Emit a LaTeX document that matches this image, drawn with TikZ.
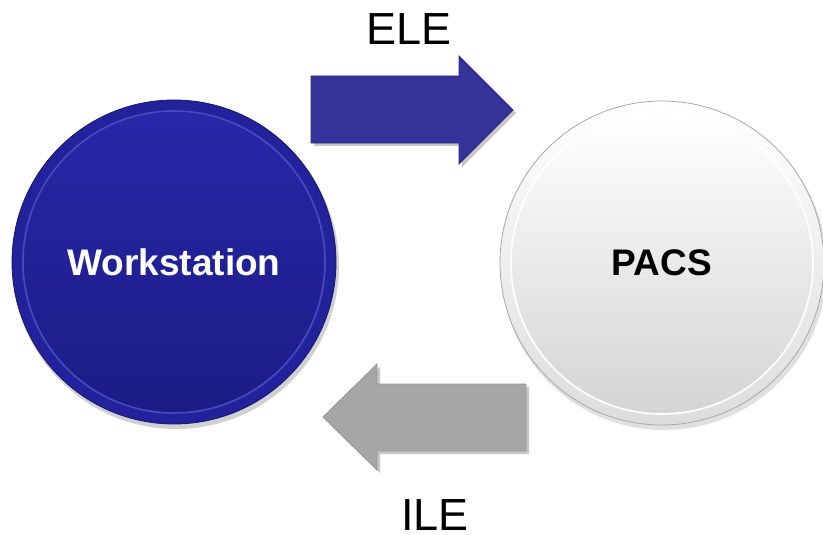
\documentclass[tikz,border=0pt]{standalone}
\usepackage{fontspec}
\setmainfont{Liberation Sans}
\definecolor{wsfill}{HTML}{22229C}
\definecolor{wstop}{HTML}{2727A8}
\definecolor{wsbot}{HTML}{1C1C86}
\definecolor{wsrim}{HTML}{5858CC}
\definecolor{wsedge}{HTML}{15156A}
\definecolor{elefill}{HTML}{333399}
\definecolor{elestroke}{HTML}{2A2A85}
\definecolor{ilefill}{HTML}{A6A6A6}
\definecolor{ilestroke}{HTML}{959595}
\definecolor{pacsbot}{HTML}{D4D4D4}
\definecolor{pacsedge}{HTML}{A8A8A8}
\tikzset{
  disc/.style={circle, minimum size=324pt, inner sep=0pt},
  bigtext/.style={font=\fontsize{37}{40}\selectfont\bfseries, inner sep=0pt},
  lbltext/.style={font=\fontsize{45}{50}\selectfont, inner sep=0pt, anchor=base},
  blockarrow/.style={line width=0.8pt, line join=miter},
  shadowfx/.style={fill=black, opacity=0.22, draw=none}
}
\begin{document}
\begin{tikzpicture}[x=1pt,y=-1pt]
\useasboundingbox (0,0) rectangle (823,535);
% shadows of circles
\fill[black, opacity=0.18] (176,266) circle (163);
\fill[black, opacity=0.12] (664,267) circle (163);
% Workstation circle
\node[disc, fill=wsfill, draw=wsedge, line width=0.8pt] (ws) at (174,262) {};
\shade[top color=wstop, bottom color=wsbot] (ws.center) circle (150);
\draw[wsrim, line width=1.6pt, opacity=0.75] (ws.center) circle (151);
\node[bigtext, text=white] (wslabel) at (ws.center) {Workstation};
% PACS circle
\node[disc, draw=pacsedge, line width=0.8pt, top color=white, bottom color=pacsbot!80] (pacs) at (662,263) {};
\shade[top color=white, bottom color=pacsbot] (pacs.center) circle (150);
\draw[white, line width=1.6pt] (pacs.center) circle (151);
\node[bigtext, text=black] (pacslabel) at (pacs.center) {PACS};
% ELE arrow
\fill[shadowfx] (314,79) -- (462,79) -- (462,59) -- (516,113) -- (462,167) -- (462,146) -- (314,146) -- cycle;
\draw[blockarrow, fill=elefill, draw=elestroke] (311,76) coordinate (eletail) -- (459,76) -- (459,56) -- (513,110) coordinate (eletip) -- (459,164) -- (459,143) -- (311,143) -- cycle;
\node[lbltext] (ele) at (409,45) {ELE};
% ILE arrow
\fill[shadowfx] (529,387) -- (380,387) -- (380,367) -- (326,420) -- (380,473) -- (380,454) -- (529,454) -- cycle;
\draw[blockarrow, fill=ilefill, draw=ilestroke] (526,384) coordinate (iletail) -- (377,384) -- (377,364) -- (323,417) coordinate (iletip) -- (377,470) -- (377,451) -- (526,451) -- cycle;
\node[lbltext] (ile) at (435,530) {ILE};
\end{tikzpicture}
\end{document}
